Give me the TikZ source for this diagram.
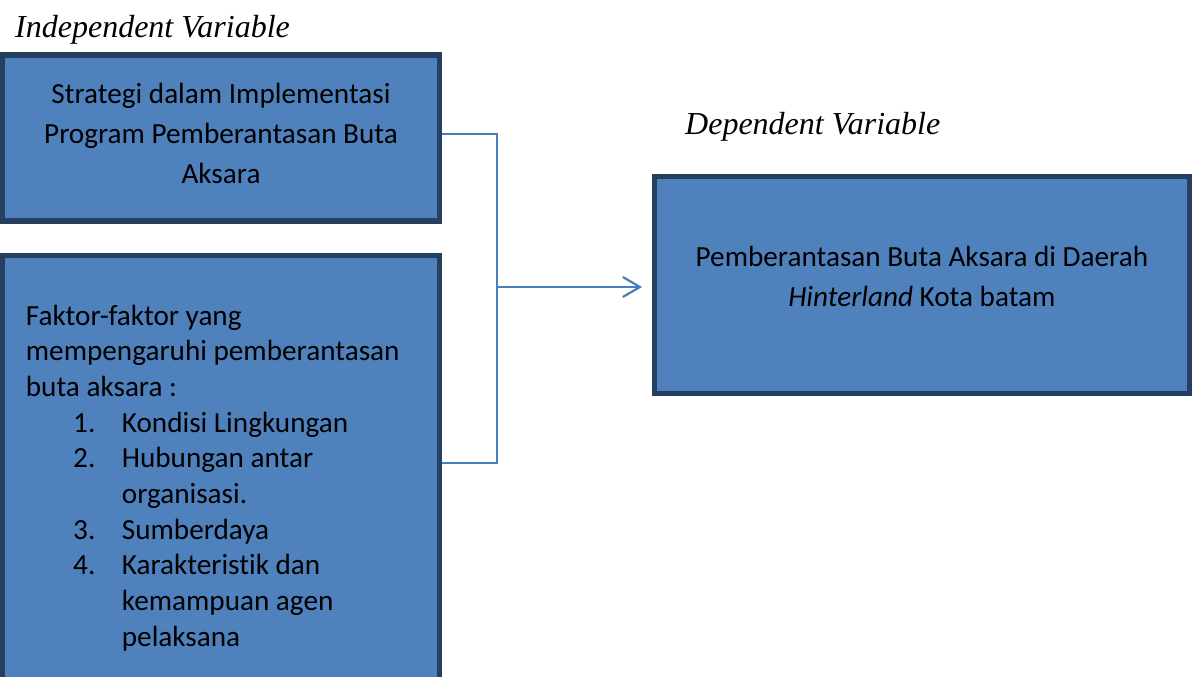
\documentclass[tikz,border=0pt]{standalone}
\usepackage{fontspec}
\setmainfont{Carlito}[Ligatures=NoCommon]
\newfontfamily\serifjudul{Liberation Serif}
\usetikzlibrary{arrows.meta}
\definecolor{isibiru}{HTML}{4F81BD}
\definecolor{tepibiru}{HTML}{243F60}
\definecolor{garisbiru}{HTML}{4A7EBB}
\newcommand{\butir}[2]{\hspace*{47.3pt}\makebox[48.7pt][l]{#1}#2}
\newcommand{\lanjut}[1]{\hspace*{96pt}#1}

\begin{document}
\begin{tikzpicture}[
  x=1pt, y=-1pt,
  kotak/.style={
    draw=tepibiru,
    line width=5.5pt,
    fill=isibiru,
    inner sep=0pt
  },
  isi/.style={
    font=\fontsize{29.2}{40}\selectfont,
    align=center,
    inner sep=0pt
  },
  judul/.style={
    font=\serifjudul\itshape\fontsize{32}{36}\selectfont,
    inner sep=0pt,
    anchor=base west
  },
  garis/.style={draw=garisbiru, line width=1.6pt},
  panah/.style={garis, line width=2.2pt, -{Straight Barb[length=17pt,width=20pt]}}
]
  \clip (0,0) rectangle (1192,677);

  % kotak
  \node[kotak, minimum width=436.8pt, minimum height=166pt]   (strategi) at (221,138)     {};
  \node[kotak, minimum width=436.8pt, minimum height=449.5pt] (faktor)   at (221,480.25)  {};
  \node[kotak, minimum width=535.2pt, minimum height=216.8pt] (dampak)   at (921.9,285.1) {};

  % isi kotak (base = garis dasar baris terakhir)
  \node[isi, anchor=base] (strategiteks) at (221,183)
    {Strategi dalam Implementasi\\Program Pemberantasan Buta\\Aksara};
  \node[isi, anchor=base west, align=left, font=\fontsize{29.2}{35.7}\selectfont] (faktorteks) at (25.7,646.3)
    {Faktor-faktor yang\\
     mempengaruhi pemberantasan\\
     buta aksara :\\
     \butir{1.}{Kondisi Lingkungan}\\
     \butir{2.}{Hubungan antar}\\
     \lanjut{organisasi.}\\
     \butir{3.}{Sumberdaya}\\
     \butir{4.}{Karakteristik dan}\\
     \lanjut{kemampuan agen}\\
     \lanjut{pelaksana}};
  \node[isi, anchor=base] (dampakteks) at (921.9,306)
    {Pemberantasan Buta Aksara di Daerah\\{\itshape Hinterland} Kota batam};

  % judul variabel
  \node[judul] (bebas)   at (15,38)   {Independent Variable};
  \node[judul] (terikat) at (685,135) {Dependent Variable};

  % penghubung
  \coordinate (simpul) at (497,287);
  \draw[garis] ([yshift=4pt]strategi.east) -| (simpul);
  \draw[garis] (faktor.east |- 0,463) -| (simpul);
  \draw[panah, shorten >=9.5pt] (simpul) -- (dampak.west |- simpul);
\end{tikzpicture}
\end{document}
